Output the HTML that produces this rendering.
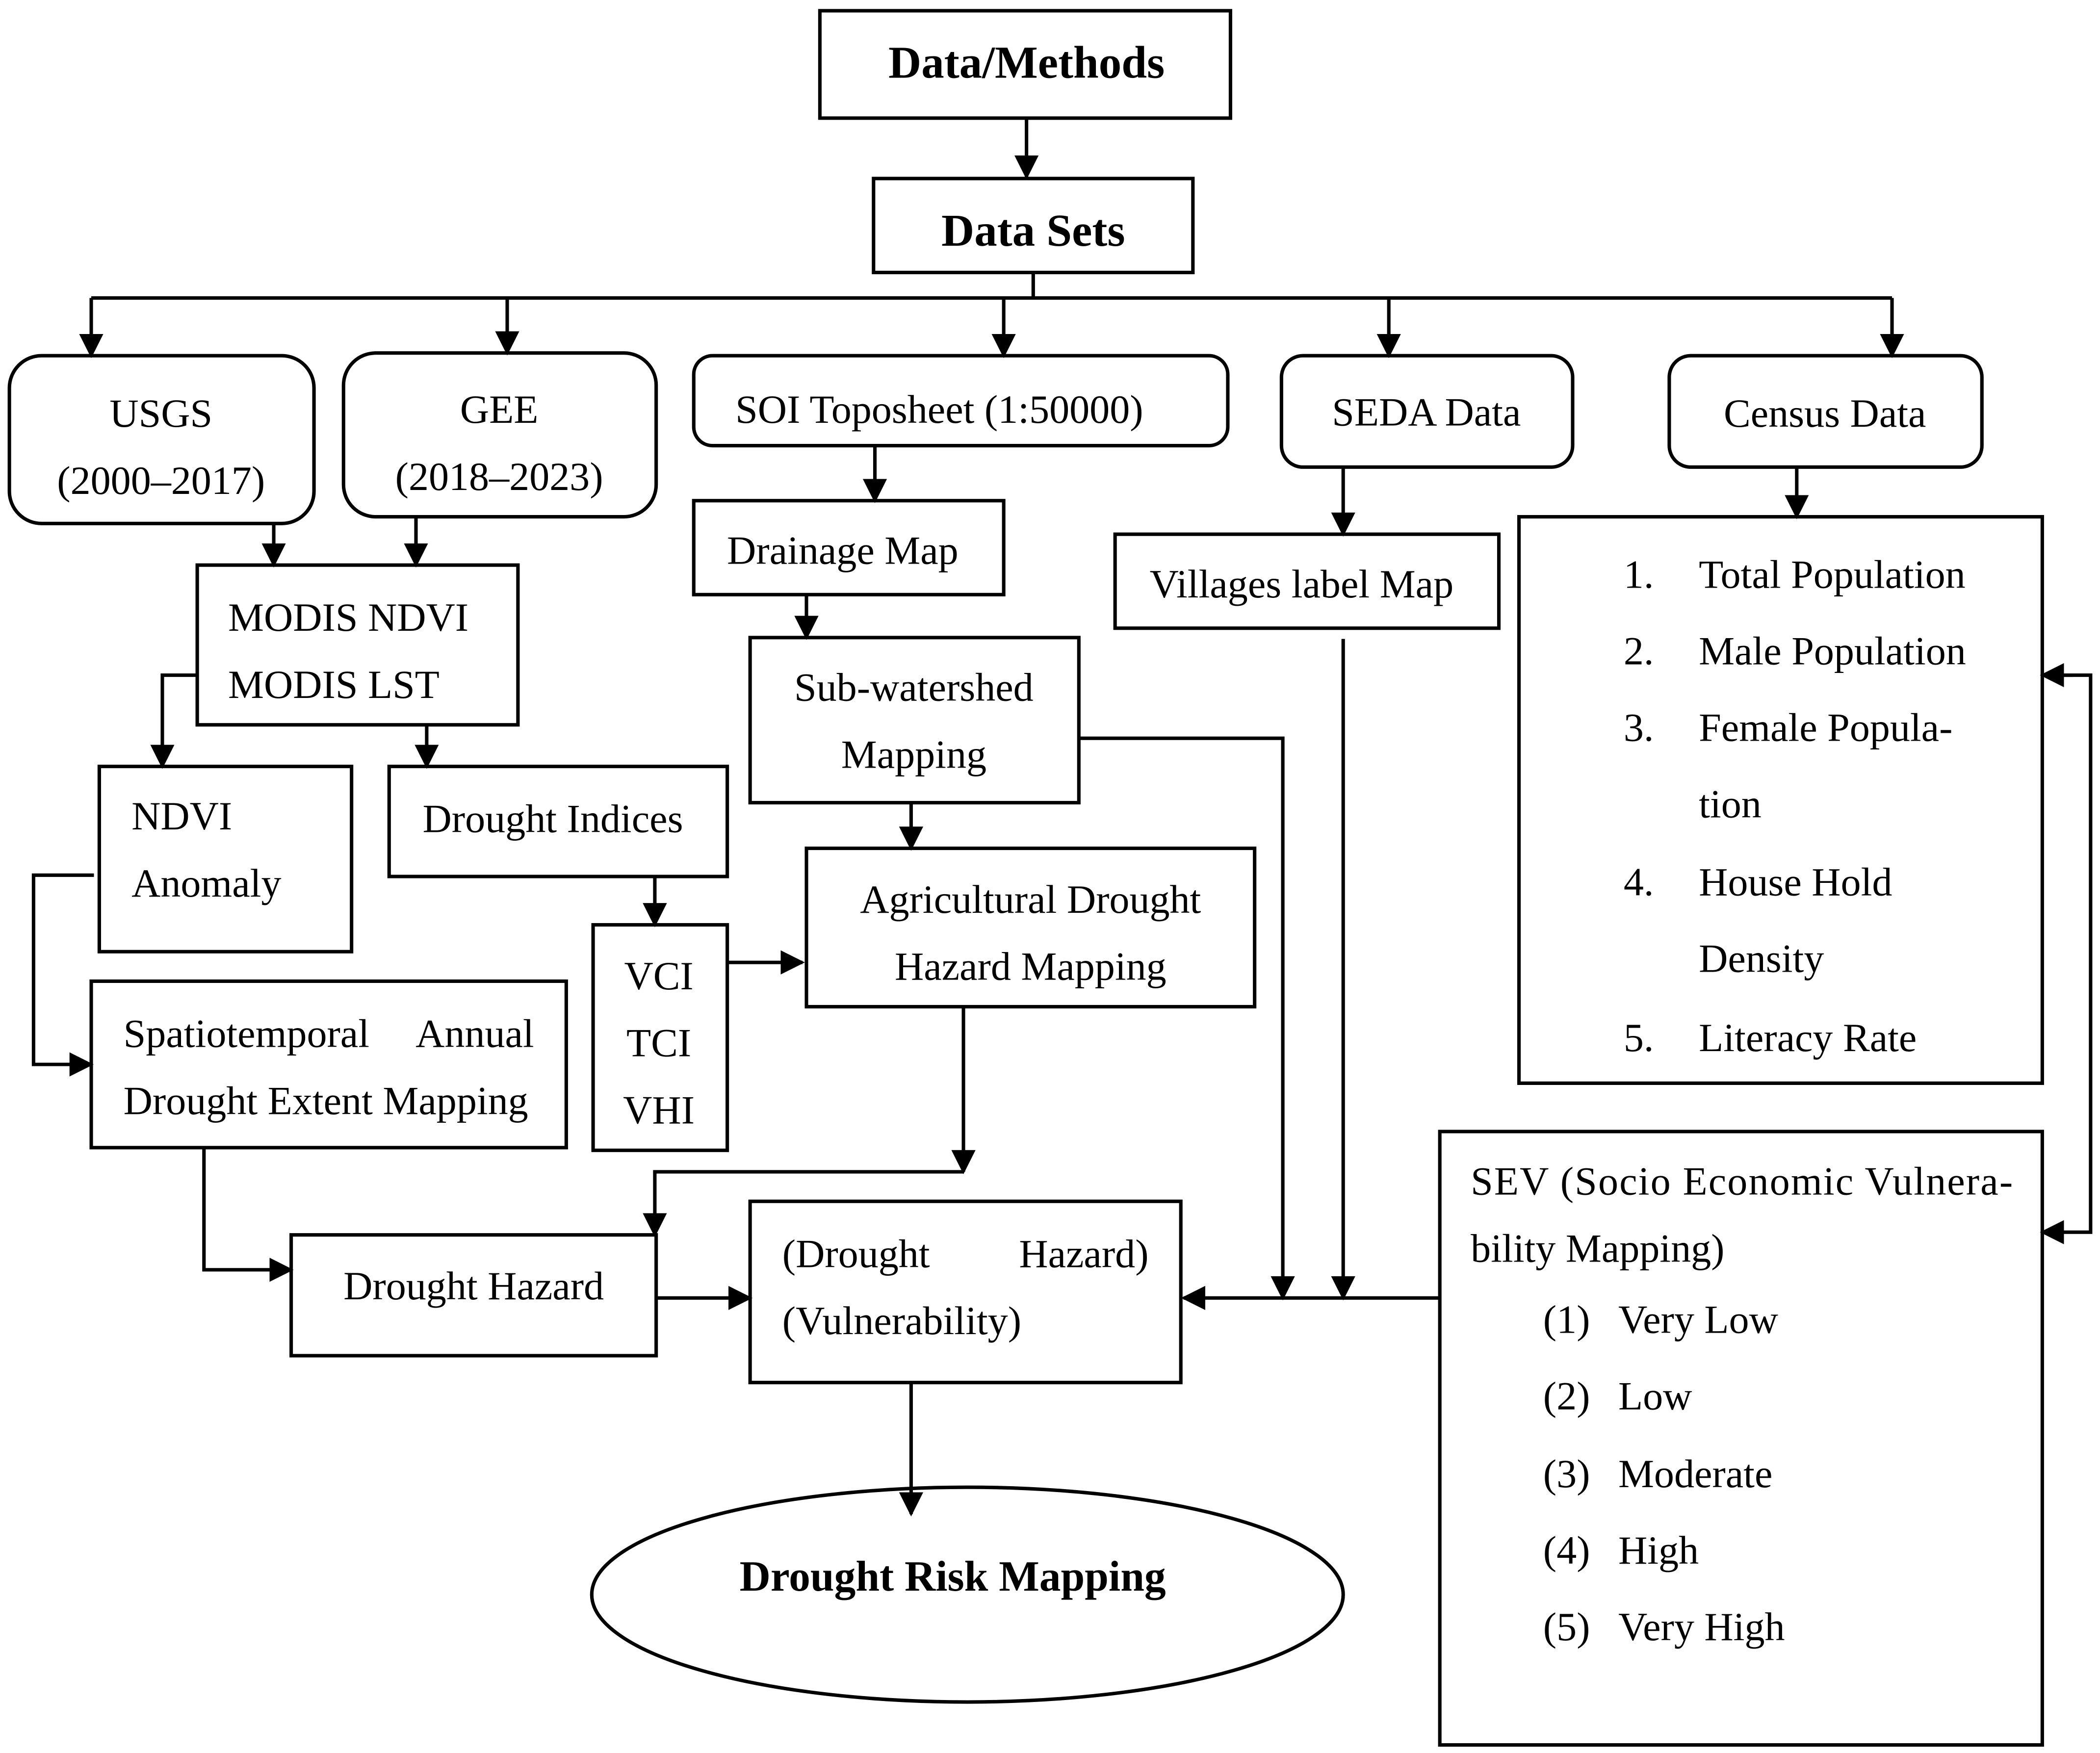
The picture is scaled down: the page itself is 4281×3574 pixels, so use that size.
<!DOCTYPE html>
<html><head><meta charset="utf-8"><style>
html,body{margin:0;padding:0;background:#fff;}
svg{display:block;}
text{font-family:"Liberation Serif",serif;font-size:30px;fill:#000;}
.b{font-weight:bold;font-size:34px;}
</style></head><body>
<svg width="4281" height="3574" viewBox="0 0 1565 1306" preserveAspectRatio="none" xmlns="http://www.w3.org/2000/svg">
<defs>
<marker id="A" viewBox="0 0 10 10" refX="9" refY="5" markerWidth="18" markerHeight="18" orient="auto" markerUnits="userSpaceOnUse"><path d="M0,0 L10,5 L0,10z" fill="#000"/></marker></defs>
<g fill="none" stroke="#000" stroke-width="2.6">
<rect x="611" y="8" width="306" height="80"/>
<rect x="651" y="133" width="238" height="70"/>
<rect x="7" y="265" width="227" height="125" rx="24"/>
<rect x="256" y="263" width="233" height="122" rx="24"/>
<rect x="517" y="265" width="398" height="67" rx="14"/>
<rect x="955" y="265" width="217" height="83" rx="16"/>
<rect x="1244" y="265" width="233" height="83" rx="16"/>
<rect x="147" y="421" width="239" height="119"/>
<rect x="74" y="571" width="188" height="138"/>
<rect x="290" y="571" width="252" height="82"/>
<rect x="442" y="689" width="100" height="168"/>
<rect x="517" y="373" width="231" height="70"/>
<rect x="559" y="475" width="245" height="123"/>
<rect x="601" y="632" width="334" height="118"/>
<rect x="68" y="731" width="354" height="124"/>
<rect x="217" y="920" width="272" height="90"/>
<rect x="559" y="895" width="321" height="135"/>
<rect x="831" y="398" width="286" height="70"/>
<rect x="1132" y="385" width="390" height="422"/>
<rect x="1073" y="843" width="449" height="457"/>
<ellipse cx="721" cy="1188" rx="280" ry="80"/>
<g marker-end="url(#A)">
<path d="M765,88V132"/>
<path d="M68,222V265"/><path d="M378,222V263"/><path d="M748,222V265"/><path d="M1035,222V265"/><path d="M1410,222V265"/>
<path d="M204,390V421"/><path d="M310,385V421"/>
<path d="M147,503H121V571"/>
<path d="M318,540V571"/>
<path d="M488,653V689"/>
<path d="M542,717H598"/>
<path d="M652,332V373"/>
<path d="M601,443V475"/>
<path d="M679,598V632"/>
<path d="M718,750V873"/>
<path d="M718,873H488V920"/>
<path d="M70,652H25V793H68"/>
<path d="M152,855V946H217"/>
<path d="M489,967H559"/>
<path d="M679,1030V1128"/>
<path d="M804,550H956V967"/>
<path d="M1001,348V398"/>
<path d="M1001,476V967"/>
<path d="M1073,967H882"/>
<path d="M1339,348V385"/>
<path d="M1545,503H1522"/>
<path d="M1522,503H1558V918H1522"/>
</g>
<path d="M770,203V222M68,222H1410"/>
</g>
<text class="b" x="765" y="58" text-anchor="middle">Data/Methods</text>
<text class="b" x="770" y="183" text-anchor="middle">Data Sets</text>
<text x="120" y="318" text-anchor="middle">USGS</text>
<text x="120" y="368" text-anchor="middle">(2000–2017)</text>
<text x="372" y="315" text-anchor="middle">GEE</text>
<text x="372" y="365" text-anchor="middle">(2018–2023)</text>
<text x="700" y="315" text-anchor="middle">SOI Toposheet (1:50000)</text>
<text x="1063" y="317" text-anchor="middle">SEDA Data</text>
<text x="1360" y="318" text-anchor="middle">Census Data</text>
<text x="170" y="470">MODIS NDVI</text>
<text x="170" y="520">MODIS LST</text>
<text x="98" y="618">NDVI</text>
<text x="98" y="668">Anomaly</text>
<text x="412" y="620" text-anchor="middle">Drought Indices</text>
<text x="491" y="737" text-anchor="middle">VCI</text>
<text x="491" y="787" text-anchor="middle">TCI</text>
<text x="491" y="837" text-anchor="middle">VHI</text>
<text x="628" y="420" text-anchor="middle">Drainage Map</text>
<text x="681" y="522" text-anchor="middle">Sub-watershed</text>
<text x="681" y="572" text-anchor="middle">Mapping</text>
<text x="768" y="680" text-anchor="middle">Agricultural Drought</text>
<text x="768" y="730" text-anchor="middle">Hazard Mapping</text>
<text x="92" y="780">Spatiotemporal</text>
<text x="398" y="780" text-anchor="end">Annual</text>
<text x="92" y="830">Drought Extent Mapping</text>
<text x="353" y="968" text-anchor="middle">Drought Hazard</text>
<text x="583" y="944">(Drought</text>
<text x="856" y="944" text-anchor="end">Hazard)</text>
<text x="583" y="994">(Vulnerability)</text>
<text class="b" x="710" y="1185" text-anchor="middle" style="font-size:32px">Drought Risk Mapping</text>
<text x="970" y="445" text-anchor="middle">Villages label Map</text>
<g style="font-size:34px">
<text x="1210" y="438">1.</text><text x="1266" y="438">Total Population</text>
<text x="1210" y="495">2.</text><text x="1266" y="495">Male Population</text>
<text x="1210" y="552">3.</text><text x="1266" y="552">Female Popula-</text>
<text x="1266" y="609">tion</text>
<text x="1210" y="667">4.</text><text x="1266" y="667">House Hold</text>
<text x="1266" y="724">Density</text>
<text x="1210" y="783">5.</text><text x="1266" y="783">Literacy Rate</text>
</g>
<text x="1096" y="890" textLength="404" lengthAdjust="spacing">SEV (Socio Economic Vulnera-</text>
<text x="1096" y="940">bility Mapping)</text>
<g style="font-size:32px">
<text x="1150" y="993">(1)</text><text x="1206" y="993">Very Low</text>
<text x="1150" y="1050">(2)</text><text x="1206" y="1050">Low</text>
<text x="1150" y="1108">(3)</text><text x="1206" y="1108">Moderate</text>
<text x="1150" y="1165">(4)</text><text x="1206" y="1165">High</text>
<text x="1150" y="1222">(5)</text><text x="1206" y="1222">Very High</text>
</g>
</svg>
</body></html>
